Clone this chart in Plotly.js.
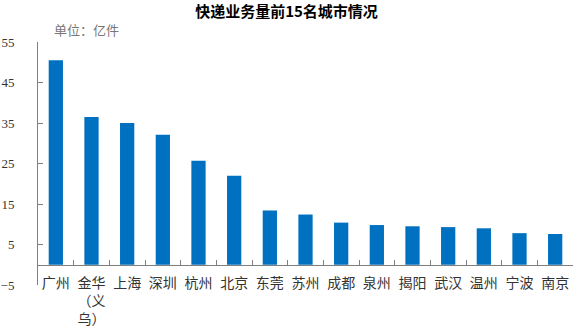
<!DOCTYPE html>
<html><head><meta charset="utf-8">
<script src="https://cdn.plot.ly/plotly-3.0.1.min.js"></script>
<style>html,body{margin:0;padding:0;background:#fff}</style>
</head><body>
<div id="chart" style="width:573px;height:334px"></div>
<script>
const cities = ["广州","金华<br>（义<br>乌）","上海","深圳","杭州","北京","东莞","苏州","成都","泉州","揭阳","武汉","温州","宁波","南京"];
const volumes = [50.5, 36.5, 35.0, 32.1, 25.7, 22.0, 13.4, 12.4, 10.4, 9.8, 9.5, 9.3, 9.0, 7.8, 7.6];
const yTicks = [-5, 5, 15, 25, 35, 45, 55];

const serif = "Liberation Serif, Noto Sans CJK SC, serif";
const cjk = "Noto Sans CJK SC, sans-serif";

Plotly.newPlot("chart", [{
  type: "bar",
  x: cities,
  y: volumes,
  marker: {color: "#0070C0"},
  hoverinfo: "skip"
}], {
  width: 573, height: 334,
  margin: {l: 38, r: 0, t: 42, b: 49},
  paper_bgcolor: "#fff", plot_bgcolor: "#fff",
  bargap: 0.6,
  showlegend: false,
  title: {text: "<b>快递业务量前15名城市情况</b>", xref: "container", x: 0.5, xanchor: "center", y: 0.965, yanchor: "middle",
          font: {family: cjk, size: 15, color: "#000"}},
  xaxis: {
    type: "category",
    anchor: "free", position: 5/60,
    showline: true, linecolor: "#7f7f7f", linewidth: 1,
    ticks: "inside", ticklen: 5, tickcolor: "#7f7f7f", tickson: "boundaries",
    tickangle: 0,
    ticklabelstandoff: 5,
    tickfont: {family: cjk, size: 14, color: "#333"},
    showgrid: false, zeroline: false, fixedrange: true
  },
  yaxis: {
    range: [-5, 55],
    tickvals: yTicks, ticktext: yTicks.map(v => v < 0 ? "−" + Math.abs(v) : String(v)),
    showline: true, linecolor: "#7f7f7f", linewidth: 1,
    ticks: "inside", ticklen: 5, tickcolor: "#7f7f7f",
    ticklabelstandoff: 20,
    tickfont: {family: serif, size: 13, color: "#333"},
    showgrid: false, zeroline: false, fixedrange: true
  },
  annotations: [{
    text: "单位：亿件", xref: "paper", yref: "paper", x: (52 - 38) / 535, y: 1.05,
    xanchor: "left", yanchor: "middle", showarrow: false,
    font: {family: cjk, size: 13, color: "#777"}
  }]
}, {displayModeBar: false, staticPlot: true});
</script>
</body></html>
